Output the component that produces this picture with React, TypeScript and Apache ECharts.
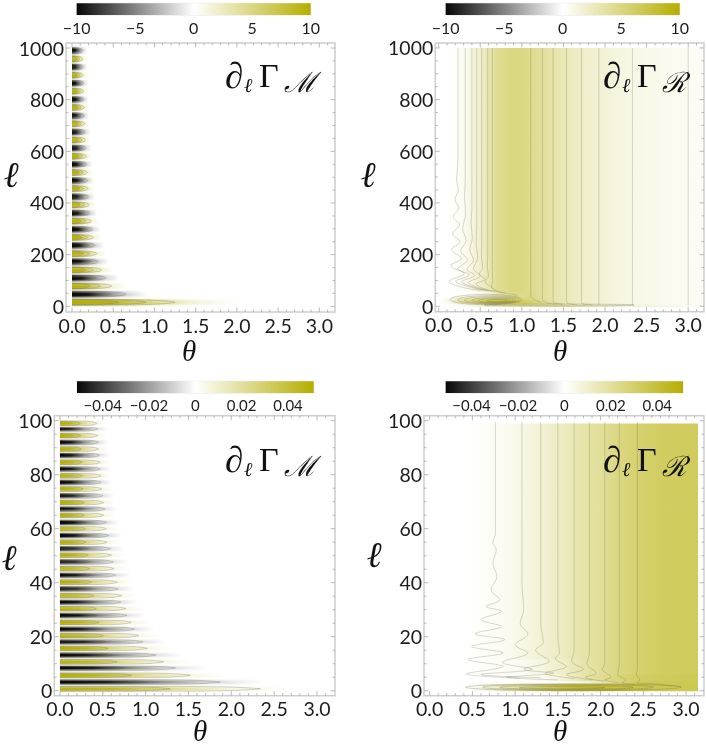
import React, { useEffect, useRef } from "react";
import * as echarts from "echarts";

const TEXT = "#1c1c1c";
const FRAME = "#cdcdcd";
const TICK = "#a8a8a8";
const LINE = "rgba(105,105,80,0.42)";
const LINE_SOFT = "rgba(105,105,80,0.32)";
const OLIVE = [181, 174, 0];
const DARK = [8, 8, 8];

// ---- axis values
const thetaLabels = [0, 0.5, 1, 1.5, 2, 2.5, 3];
const thetaTicks = [0, 0.1, 0.2, 0.3, 0.4, 0.5, 0.6, 0.7, 0.8, 0.9, 1, 1.1, 1.2, 1.3, 1.4, 1.5, 1.6, 1.7, 1.8, 1.9, 2, 2.1, 2.2, 2.3, 2.4, 2.5, 2.6, 2.7, 2.8, 2.9, 3, 3.1];
const ell1000Labels = [0, 200, 400, 600, 800, 1000];
const ell1000Ticks = [0, 50, 100, 150, 200, 250, 300, 350, 400, 450, 500, 550, 600, 650, 700, 750, 800, 850, 900, 950, 1000];
const ell100Labels = [0, 20, 40, 60, 80, 100];
const ell100Ticks = [0, 5, 10, 15, 20, 25, 30, 35, 40, 45, 50, 55, 60, 65, 70, 75, 80, 85, 90, 95, 100];
const barLabelsWide = [-10, -5, 0, 5, 10];
const barLabelsNarrow = [-0.04, -0.02, 0, 0.02, 0.04];

// ---- top left: bands of the M term, l <= 1000
const m1000Ell = [15.7, 47, 78.5, 110, 141, 173, 204, 236, 267, 298, 330, 361, 393, 424, 456, 487, 518, 550, 581, 613, 644, 675, 707, 738, 770, 801, 833, 864, 895, 927, 958, 990];
const m1000Peak = [10, -10, 10, -10, 10, -10, 10, -10, 10, -10, 10, -10, 10, -10, 10, -10, 10, -10, 10, -10, 10, -10, 10, -10, 10, -10, 10, -10, 10, -10, 10, -10];
const m1000Reach = [1.25, 0.66, 0.48, 0.41, 0.36, 0.32, 0.3, 0.28, 0.26, 0.25, 0.235, 0.22, 0.21, 0.2, 0.195, 0.19, 0.185, 0.178, 0.174, 0.17, 0.165, 0.16, 0.155, 0.15, 0.15, 0.145, 0.14, 0.14, 0.135, 0.135, 0.13, 0.13];

// ---- bottom left: bands of the M term, l <= 100
const m100Ell = [0.7, 3.2, 5.7, 8.4, 10.7, 13.2, 15.7, 18.1, 20.4, 22.8, 25.3, 27.9, 30.4, 32.8, 35.2, 37.7, 40.2, 42.8, 45.2, 47.7, 50.2, 52.6, 55, 57.5, 60, 62.3, 65, 67.3, 69.7, 72.2, 74.7, 77.2, 79.6, 82.1, 84.6, 87.2, 89.5, 92, 94.5, 97, 99];
const m100Peak = [0.05, -0.05, 0.05, -0.05, 0.05, -0.05, 0.05, -0.05, 0.05, -0.05, 0.05, -0.05, 0.05, -0.05, 0.05, -0.05, 0.05, -0.05, 0.05, -0.05, 0.05, -0.05, 0.05, -0.05, 0.05, -0.05, 0.05, -0.05, 0.05, -0.05, 0.05, -0.05, 0.05, -0.05, 0.05, -0.05, 0.05, -0.05, 0.05, -0.05, 0.05];
const m100Reach = [2.34, 1.87, 1.52, 1.35, 1.21, 1.12, 1.02, 0.97, 0.92, 0.87, 0.83, 0.78, 0.77, 0.71, 0.72, 0.68, 0.67, 0.65, 0.63, 0.62, 0.6, 0.59, 0.55, 0.57, 0.54, 0.545, 0.51, 0.525, 0.51, 0.5, 0.49, 0.48, 0.48, 0.47, 0.47, 0.46, 0.45, 0.45, 0.44, 0.44, 0.43];

// fading of a band along theta and across its width
const fadeStops = [[0, 1.25], [0.22, 0.95], [0.5, 0.45], [0.72, 0.16], [1, 0]];
const acrossWide = [0.2, 0.65, 0.95, 1, 0.95, 0.65, 0.2];
const acrossThin = [0.12, 0.5, 0.92, 1, 0.92, 0.5, 0.12];
const tipRound = [[0, 1], [0.4, 0.93], [0.7, 0.74], [0.9, 0.43], [1, 0]];
const tipSharp = [[0, 0.9], [0.65, 0.85], [0.86, 0.62], [0.95, 0.3], [1, 0]];

// ---- top right: R term, rows over l, values over theta
const r1000Thetas = [0, 0.15, 0.2, 0.3, 0.4, 0.5, 0.6, 0.7, 0.9, 1.1, 1.25, 1.4, 1.55, 1.7, 1.93, 2.33, 3.0, 3.17];
const r1000Rows = [
  [1, 3, 0, 0.1, 0.2, 0.5, 0.9, 1.4, 2, 2.6, 3.4, 3.8, 3.9, 3.8, 3.6, 3.2, 2.6, 1.6, 0.8, 0.6],
  [3, 7, 0, 0.1, 0.2, 0.5, 0.9, 1.4, 2, 2.6, 3.4, 3.8, 3.9, 3.8, 3.6, 3.2, 2.6, 1.6, 0.8, 0.6],
  [7, 12, 0, 0.2, 0.4, 1, 1.5, 2.2, 3, 3.6, 4.4, 4.6, 4.3, 3.8, 3.3, 2.8, 2.1, 1.2, 0.6, 0.5],
  [12, 18, 0, 0.6, 1.3, 2.4, 3.2, 4.4, 5.4, 6, 6.4, 5.8, 4.6, 3.6, 2.9, 2.3, 1.7, 1, 0.5, 0.4],
  [18, 24, 0, 1.2, 2.5, 4, 5, 6.4, 7.6, 8, 7.4, 5.8, 4.4, 3.3, 2.7, 2.2, 1.7, 1, 0.5, 0.4],
  [24, 30, 0, 1.2, 2.5, 4, 5, 6, 6.8, 7.4, 6.5, 5.2, 4.2, 3.3, 2.7, 2.2, 1.7, 1, 0.5, 0.4],
  [30, 36, 0, 1, 2, 3, 3.6, 4, 4.4, 4.8, 5, 4.8, 3.9, 3.2, 2.7, 2.2, 1.7, 1, 0.5, 0.4],
  [36, 42, 0, 0.5, 1, 1.6, 1.9, 2.2, 2.8, 3.6, 4.6, 4.8, 3.9, 3.2, 2.7, 2.2, 1.7, 1, 0.5, 0.4],
  [42, 48, 0, 0.1, 0.2, 0.4, 0.6, 0.9, 1.6, 3, 4.4, 4.7, 3.9, 3.2, 2.7, 2.2, 1.7, 1, 0.5, 0.4],
  [48, 60, 0, 0, 0, 0.05, 0.2, 0.6, 1.4, 3, 4.6, 4.7, 3.9, 3.2, 2.7, 2.2, 1.7, 1, 0.5, 0.4],
  [60, 80, 0, 0.02, 0.1, 0.3, 0.9, 1.7, 2.8, 4.2, 5, 4.6, 3.9, 3.2, 2.7, 2.2, 1.7, 1, 0.5, 0.4],
  [80, 1000, 0, 0.03, 0.15, 0.5, 1.2, 2, 3, 4.2, 5, 4.6, 3.9, 3.2, 2.7, 2.2, 1.7, 1, 0.5, 0.4],
];

const r1000Contour1 = [[0.233, 1000], [0.233, 700], [0.232, 567], [0.216, 490], [0.236, 451], [0.196, 412], [0.244, 380], [0.176, 347], [0.25, 315], [0.168, 280], [0.257, 250], [0.156, 219], [0.276, 185], [0.144, 157], [0.308, 127], [0.128, 96], [0.3, 72], [0.52, 62]];
const r1000Contour2 = [[0.32, 1000], [0.32, 500], [0.312, 420], [0.325, 360], [0.29, 300], [0.33, 255], [0.265, 215], [0.345, 180], [0.23, 145], [0.37, 122], [0.205, 96], [0.36, 76], [0.56, 62]];
const r1000Contour3 = [[0.4, 1000], [0.4, 380], [0.39, 320], [0.405, 265], [0.375, 220], [0.42, 178], [0.34, 143], [0.435, 120], [0.28, 95], [0.42, 74], [0.6, 60]];
const r1000Contour4 = [[0.457, 1000], [0.457, 300], [0.45, 245], [0.47, 190], [0.42, 145], [0.5, 118], [0.36, 92], [0.48, 72], [0.64, 58]];
const r1000Contour5 = [[0.518, 1000], [0.518, 240], [0.515, 190], [0.53, 150], [0.49, 125], [0.56, 105], [0.45, 86], [0.55, 68], [0.68, 56]];
const r1000Contour6 = [[0.59, 1000], [0.59, 200], [0.585, 150], [0.6, 118], [0.56, 95], [0.63, 76], [0.7, 58], [0.8, 50]];
const r1000Contour7 = [[0.645, 1000], [0.645, 130], [0.65, 95], [0.635, 78], [0.68, 60], [0.8, 52], [0.95, 42]];
const r1000Contour8 = [[1.107, 1000], [1.107, 70], [1.11, 40], [1.16, 24], [1.24, 15]];
const r1000Contour9 = [[1.248, 1000], [1.248, 50], [1.25, 26], [1.3, 14], [1.42, 8]];
const r1000Contour10 = [[1.376, 1000], [1.376, 30], [1.39, 14], [1.5, 8]];
const r1000Contour11 = [[1.537, 1000], [1.537, 24], [1.55, 11], [1.66, 7]];
const r1000Contour12 = [[1.717, 1000], [1.717, 18], [1.73, 9], [1.85, 6]];
const r1000Contour13 = [[1.926, 1000], [1.926, 6]];
const r1000Contour14 = [[2.33, 1000], [2.33, 5]];
const r1000Contour15 = [[3.0, 1000], [3.0, 4]];
const r1000Contours = [r1000Contour1, r1000Contour2, r1000Contour3, r1000Contour4, r1000Contour5, r1000Contour6, r1000Contour7, r1000Contour8, r1000Contour9, r1000Contour10, r1000Contour11, r1000Contour12, r1000Contour13, r1000Contour14, r1000Contour15];
// closed rings: centre theta, centre l, half width, half height
const r1000Rings = [[0.57, 26, 0.43, 20], [0.6, 25, 0.37, 16], [0.62, 24, 0.31, 13], [0.65, 23, 0.25, 10], [0.67, 22, 0.19, 7.5], [0.7, 22, 0.12, 4.5], [1.45, 5, 0.9, 3.6]];

// ---- bottom right: R term, l <= 100
const r100Thetas = [0, 0.3, 0.5, 0.77, 1.08, 1.32, 1.51, 1.7, 1.87, 2.05, 2.22, 2.43, 2.7, 3.14];
const r100Rows = [
  [0.2, 2.8, 0, 0, 0.002, 0.01, 0.02, 0.03, 0.036, 0.04, 0.04, 0.04, 0.038, 0.036, 0.034, 0.034],
  [2.8, 4, 0, 0, 0, 0.001, 0.001, 0.001, 0.002, 0.005, 0.01, 0.018, 0.026, 0.031, 0.033, 0.034],
  [4, 6.5, 0, 0, 0, 0, 0.0005, 0.003, 0.007, 0.013, 0.018, 0.022, 0.026, 0.03, 0.032, 0.033],
  [6.5, 12, 0, 0, 0.0002, 0.0015, 0.003, 0.006, 0.01, 0.014, 0.018, 0.021, 0.025, 0.028, 0.031, 0.032],
  [12, 99, 0, 0, 0.0003, 0.002, 0.005, 0.0085, 0.0115, 0.015, 0.018, 0.021, 0.025, 0.028, 0.031, 0.032],
];
const r100Contour1 = [[0.77, 99.5], [0.77, 58.4], [0.74, 54.7], [0.78, 52.2], [0.74, 47.3], [0.787, 42.3], [0.72, 37.4], [0.82, 33.7], [0.66, 31.2], [0.84, 29.4], [0.6, 26.3], [0.84, 23.8], [0.53, 21.1], [0.88, 18.9], [0.49, 16.4], [0.86, 14], [0.45, 11.5], [0.86, 9], [0.43, 6.2], [1.05, 4.7]];
const r100Contour2 = [[1.08, 99.5], [1.08, 40], [1.1, 30], [1.06, 25], [1.15, 21], [1, 17], [1.15, 14], [0.85, 10.5], [1.2, 8], [0.6, 6], [1.3, 4.8]];
const r100Contour3 = [[1.3, 99.5], [1.3, 25], [1.33, 18], [1.24, 15], [1.4, 11], [1.1, 8], [1.45, 6.5], [0.9, 5], [1.5, 4]];
const r100Contour4 = [[1.5, 99.5], [1.5, 20], [1.52, 14], [1.47, 12], [1.6, 9], [1.35, 6.5], [1.7, 4.5]];
const r100Contour5 = [[1.69, 99.5], [1.69, 15], [1.66, 11], [1.8, 8], [1.6, 6], [1.9, 4]];
const r100Contour6 = [[1.87, 99.5], [1.87, 14], [1.84, 10], [1.95, 6.5], [1.82, 5], [2.05, 3.5]];
const r100Contour7 = [[2.05, 99.5], [2.05, 10], [2.02, 8], [2.12, 5], [2.05, 4], [2.2, 3]];
const r100Contour8 = [[2.22, 99.5], [2.22, 10], [2.2, 6], [2.3, 4], [2.25, 3], [2.4, 2.4]];
const r100Contour9 = [[2.43, 99.5], [2.43, 8], [2.42, 6], [2.46, 4], [2.42, 3], [2.6, 2.6], [2.94, 1.5]];
const r100Contours = [r100Contour1, r100Contour2, r100Contour3, r100Contour4, r100Contour5, r100Contour6, r100Contour7, r100Contour8, r100Contour9];
const r100Rings = [[1.68, 1.3, 1.26, 1.3], [1.62, 1.3, 1.0, 1.05], [1.6, 1.25, 0.78, 0.75], [1.55, 1.1, 0.5, 0.4]];

const colorOf = (t: number) => {
  const a = Math.min(1, Math.abs(t));
  const end = t < 0 ? DARK : OLIVE;
  const c = [0, 1, 2].map((i) => Math.round(255 + (end[i] - 255) * a));
  return `rgb(${c[0]},${c[1]},${c[2]})`;
};

const hGradient = (stops: { offset: number; color: string }[]) =>
  new echarts.graphic.LinearGradient(0, 0, 1, 0, stops);

const bandRender = (halfHeight: number, vMax: number, fadeRatio: number, firstBoost: number, across: number[], tip: number[][], inner: number[][]) => (params: any, api: any) => {
  const ell = api.value(0);
  const peak = api.value(1) / vMax;
  const reach = api.value(2);
  const fade = reach * (params.dataIndex === 0 ? fadeRatio * firstBoost : fadeRatio);
  const x0 = api.coord([0, ell])[0];
  const x1 = api.coord([fade, ell])[0];
  const yTop = api.coord([0, ell + halfHeight])[1];
  const yBottom = api.coord([0, ell - halfHeight])[1];
  const step = (yBottom - yTop) / across.length;
  const children: any[] = across.map((p, i) => ({
    type: "rect",
    shape: { x: x0, y: yTop + i * step, width: x1 - x0, height: step + 0.4 },
    style: {
      fill: hGradient(fadeStops.map(([f, a]) => ({ offset: f, color: colorOf(peak * a * p) }))),
    },
  }));
  const levels = peak > 0 ? inner : inner.slice(0, 2);
  levels.forEach(([level, shrink]) => {
    const pts: number[][] = [];
    const tipX = api.coord([reach * level, ell])[0];
    const h = ((yBottom - yTop) / 2) * shrink;
    const yc = (yTop + yBottom) / 2;
    tip.forEach(([fx, fy]) => pts.push([x0 + (tipX - x0) * fx, yc - h * fy]));
    [...tip].reverse().slice(1).forEach(([fx, fy]) => pts.push([x0 + (tipX - x0) * fx, yc + h * fy]));
    children.push({
      type: "polyline",
      shape: { points: pts, smooth: 0.3 },
      style: { fill: "none", stroke: LINE, lineWidth: 0.7 },
    });
  });
  return { type: "group", children };
};

const fieldRender = (thetas: number[], vMax: number) => (_p: any, api: any) => {
  const low = api.value(0);
  const high = api.value(1);
  const last = thetas[thetas.length - 1];
  const a = api.coord([0, high]);
  const b = api.coord([last, low]);
  return {
    type: "rect",
    shape: { x: a[0], y: a[1], width: b[0] - a[0], height: b[1] - a[1] + 1 },
    style: {
      fill: hGradient(thetas.map((th, i) => ({ offset: th / last, color: colorOf(api.value(i + 2) / vMax) }))),
    },
  };
};

const ringRender = (_p: any, api: any) => {
  const c = api.coord([api.value(0), api.value(1)]);
  const e = api.coord([api.value(0) + api.value(2), api.value(1) + api.value(3)]);
  return {
    type: "ellipse",
    shape: { cx: c[0], cy: c[1], rx: e[0] - c[0], ry: c[1] - e[1] },
    style: { fill: "none", stroke: LINE, lineWidth: 0.7 },
  };
};

const tickRender = (vertical: boolean, labels: number[]) => (params: any, api: any) => {
  const v = api.value(0);
  const s = params.coordSys;
  const len = labels.some((m) => Math.abs(m - v) < 1e-6) ? 4.5 : 2.5;
  const stroke = TICK;
  const seg = (x1: number, y1: number, x2: number, y2: number) => ({
    type: "line",
    shape: { x1, y1, x2, y2 },
    style: { stroke, lineWidth: 0.8 },
  });
  if (vertical) {
    const x = api.coord([v, 0])[0];
    return { type: "group", children: [seg(x, s.y + s.height, x, s.y + s.height - len), seg(x, s.y, x, s.y + len)] };
  }
  const y = api.coord([0, v])[1];
  return { type: "group", children: [seg(s.x, y, s.x + len, y), seg(s.x + s.width, y, s.x + s.width - len, y)] };
};

const barRender = (_p: any, api: any) => {
  const a = api.coord([api.value(0), 1]);
  const b = api.coord([api.value(1), 0]);
  return {
    type: "rect",
    shape: { x: a[0], y: a[1], width: b[0] - a[0], height: b[1] - a[1] },
    style: {
      fill: hGradient([
        { offset: 0, color: colorOf(-1) },
        { offset: 0.5, color: colorOf(0) },
        { offset: 1, color: colorOf(1) },
      ]),
    },
  };
};

const panels = [
  { left: 66, top: 43, width: 269, height: 269, xMin: -0.073, xMax: 3.19, yMin: -22, yMax: 1019.4, yLabels: ell1000Labels, yTicks: ell1000Ticks },
  { left: 435.3, top: 43, width: 268.7, height: 268.7, xMin: -0.04, xMax: 3.19, yMin: -21, yMax: 1019, yLabels: ell1000Labels, yTicks: ell1000Ticks },
  { left: 54.3, top: 415.7, width: 280.7, height: 280, xMin: -0.066, xMax: 3.21, yMin: -1.85, yMax: 101.85, yLabels: ell100Labels, yTicks: ell100Ticks },
  { left: 424, top: 415.7, width: 280, height: 280, xMin: -0.066, xMax: 3.21, yMin: -1.85, yMax: 101.85, yLabels: ell100Labels, yTicks: ell100Ticks },
];
const bars = [
  { left: 76.7, top: 3.3, width: 234, height: 11.7, min: -10, max: 10, labels: barLabelsWide, size: 16 },
  { left: 445.7, top: 3.3, width: 234, height: 11.7, min: -10, max: 10, labels: barLabelsWide, size: 16 },
  { left: 77, top: 381.3, width: 236.7, height: 11.7, min: -0.0511, max: 0.0511, labels: barLabelsNarrow, size: 15 },
  { left: 445.7, top: 381.3, width: 237.3, height: 11.7, min: -0.0511, max: 0.0511, labels: barLabelsNarrow, size: 15 },
];

const LABEL_FONT = "Lato";
const SERIF = "'Liberation Serif'";

const buildTexts = () => {
  const txt = (text: string, x: number, y: number, font: string, align = "left") => ({
    type: "text",
    x,
    y,
    z: 100,
    silent: true,
    style: { text, font, fill: "#111", align, verticalAlign: "middle" },
  });
  // places a text by its baseline; the text box is centred 0.3 of the size above it
  const onBaseline = (text: string, x: number, base: number, size: number, font: string) =>
    txt(text, x, base - 0.3 * size, font);
  const els: any[] = [];
  const thetaAt = [[189, 351], [560, 351], [200, 731], [560, 731]];
  const ellAt = [[11, 175], [368, 175], [9, 558], [374, 555]];
  thetaAt.forEach(([x, y]) => els.push(txt("θ", x, y, `italic 29px ${SERIF}`, "center")));
  ellAt.forEach(([x, y]) => els.push(txt("ℓ", x, y, `italic 36px ${SERIF}`, "center")));
  const titles = [
    [225, 87, "ℳ"],
    [603, 87, "ℛ"],
    [225, 470.7, "ℳ"],
    [603, 470.7, "ℛ"],
  ] as [number, number, string][];
  titles.forEach(([x, y, script]) => {
    els.push(onBaseline("∂", x, y, 37, `italic 37px ${SERIF}`));
    els.push(onBaseline("ℓ", x + 19, y + 4, 20, `italic 20px ${SERIF}`));
    els.push(onBaseline("Γ", x + 34, y - 1, 34, `34px ${SERIF}`));
    els.push(onBaseline(script, x + 59, y + 4, 28, `italic 28px 'DejaVu Serif'`));
  });
  return els;
};

const App = () => {
  const ref = useRef<HTMLDivElement>(null);
  useEffect(() => {
    const chart = echarts.init(ref.current!, null, { renderer: "svg" });
    const grid: any[] = [];
    const xAxis: any[] = [];
    const yAxis: any[] = [];
    const series: any[] = [];

    panels.forEach((p, i) => {
      grid.push({ left: p.left, top: p.top, width: p.width, height: p.height, show: true, borderColor: FRAME, borderWidth: 1.5, backgroundColor: "#fff" });
      xAxis.push({
        type: "value", gridIndex: i, min: p.xMin, max: p.xMax, splitLine: { show: false }, axisLine: { show: false }, axisTick: { show: false },
        axisLabel: { customValues: thetaLabels, formatter: (v: number) => v.toFixed(1), color: TEXT, fontFamily: LABEL_FONT, fontSize: 19.5, margin: 3 },
      });
      yAxis.push({
        type: "value", gridIndex: i, min: p.yMin, max: p.yMax, splitLine: { show: false }, axisLine: { show: false }, axisTick: { show: false },
        axisLabel: { customValues: p.yLabels, formatter: (v: number) => String(v), color: TEXT, fontFamily: LABEL_FONT, fontSize: 19.5, margin: 2 },
      });
      const on = { type: "custom", xAxisIndex: i, yAxisIndex: i, coordinateSystem: "cartesian2d", silent: true };
      series.push({ ...on, renderItem: tickRender(true, thetaLabels), data: thetaTicks.map((v) => [v, 0]), z: 5 });
      series.push({ ...on, renderItem: tickRender(false, p.yLabels), data: p.yTicks.map((v) => [v, 0]), z: 5 });
    });

    const on = (i: number) => ({ type: "custom", xAxisIndex: i, yAxisIndex: i, coordinateSystem: "cartesian2d", silent: true, z: 2 });
    series.push({
      ...on(0),
      renderItem: bandRender(15.7, 10, 1.4, 1.15, acrossWide, tipRound, [[1, 0.78], [0.72, 0.68], [0.45, 0.6]]),
      data: m1000Ell.map((l, i) => [l, m1000Peak[i], m1000Reach[i]]),
    });
    series.push({
      ...on(2),
      renderItem: bandRender(1.24, 0.05, 1.28, 0.9, acrossThin, tipSharp, [[1, 0.8], [0.55, 0.68]]),
      data: m100Ell.map((l, i) => [l, m100Peak[i], m100Reach[i]]),
    });
    series.push({ ...on(1), renderItem: fieldRender(r1000Thetas, 10), data: r1000Rows });
    series.push({ ...on(3), renderItem: fieldRender(r100Thetas, 0.05), data: r100Rows });
    series.push({ ...on(1), renderItem: ringRender, data: r1000Rings, z: 3 });
    series.push({ ...on(3), renderItem: ringRender, data: r100Rings, z: 3 });

    const contourSeries = (i: number, data: number[][]) => ({
      type: "line", xAxisIndex: i, yAxisIndex: i, data, smooth: 0.35, symbol: "none", silent: true, z: 3,
      lineStyle: { color: LINE_SOFT, width: 0.8 },
    });
    r1000Contours.forEach((c) => series.push(contourSeries(1, c)));
    r100Contours.forEach((c) => series.push(contourSeries(3, c)));

    bars.forEach((b, k) => {
      const i = panels.length + k;
      grid.push({ left: b.left, top: b.top, width: b.width, height: b.height, show: true, borderColor: "#d4d4d4", borderWidth: 0.6 });
      xAxis.push({
        type: "value", gridIndex: i, min: b.min, max: b.max, splitLine: { show: false }, axisLine: { show: false }, axisTick: { show: false },
        axisLabel: {
          customValues: b.labels, color: TEXT, fontFamily: LABEL_FONT, fontSize: b.size, margin: 4,
          formatter: (v: number) => (v < 0 ? "−" + Math.abs(v) : String(v)),
        },
      });
      yAxis.push({ type: "value", gridIndex: i, min: 0, max: 1, show: false });
      series.push({ ...on(i), renderItem: barRender, data: [[b.min, b.max]] });
    });

    chart.setOption({
      animation: false,
      backgroundColor: "#fff",
      grid,
      xAxis,
      yAxis,
      series,
      graphic: { elements: buildTexts() },
    });
    return () => chart.dispose();
  }, []);
  return (
    <div
      ref={ref}
      style={{ position: "fixed", left: 0, top: 0, width: 706, height: 747, filter: "blur(0.45px)" }}
    />
  );
};

export default App;
